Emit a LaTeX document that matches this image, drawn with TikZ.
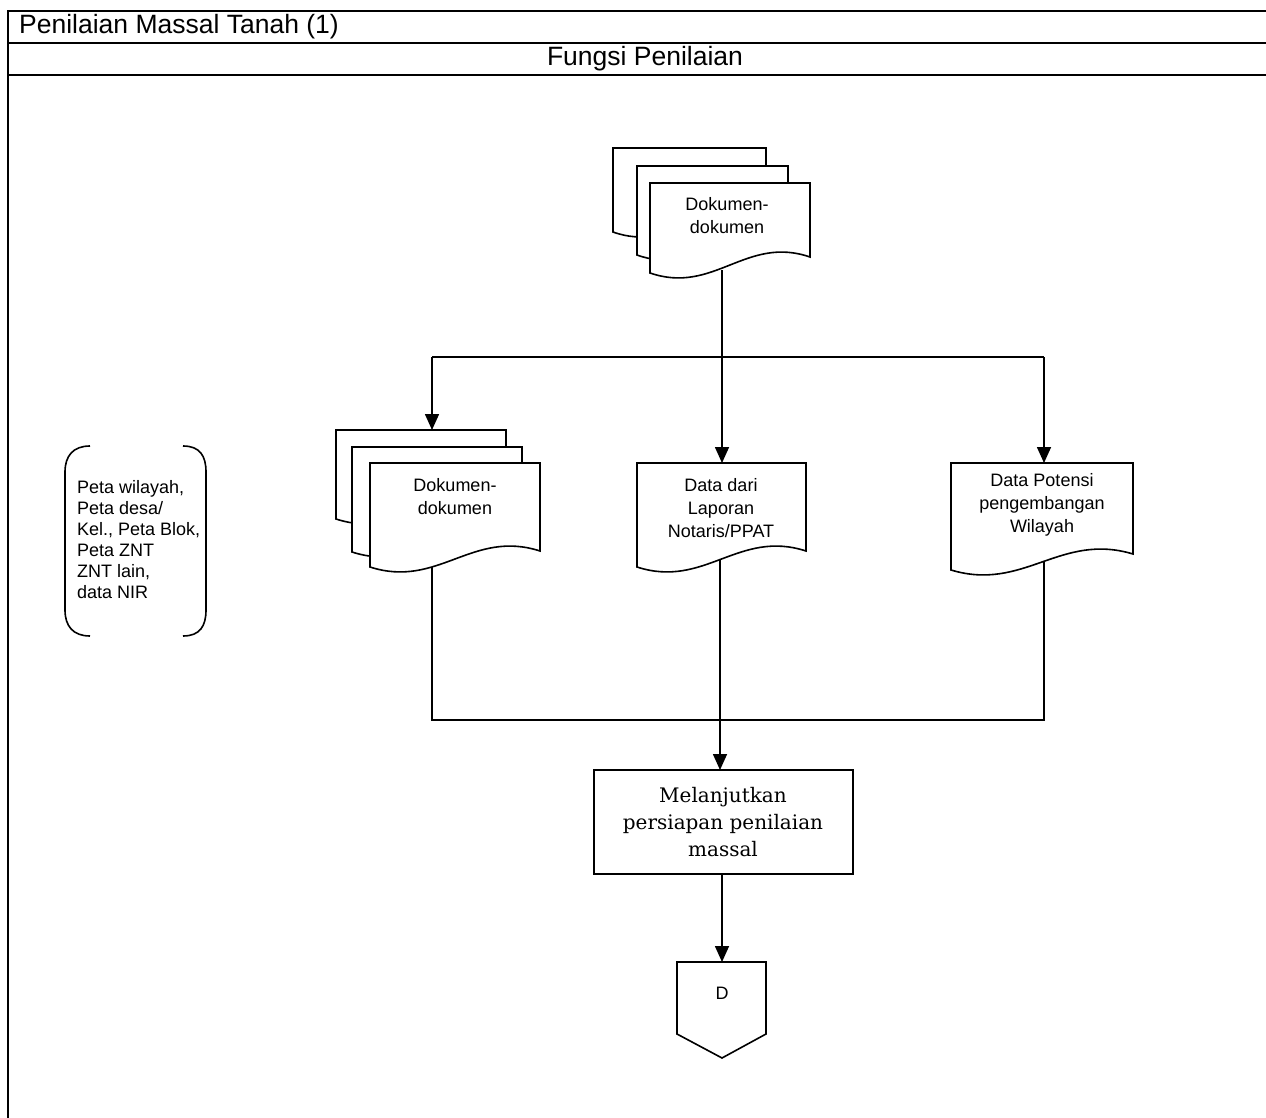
\documentclass[tikz,border=0pt]{standalone}
\usepackage{fontspec}
\setmainfont{Liberation Sans}
\newfontfamily\bookfont{DejaVu Serif}
\usetikzlibrary{arrows.meta}
\tikzset{
  docline/.style={line width=1.6pt, fill=white, line join=miter},
  conn/.style={line width=1.6pt},
  arr/.style={line width=1.6pt, -{Triangle[length=16pt,width=14pt]}},
  frameline/.style={line width=1.4pt},
  smalltext/.style={font=\fontsize{18}{23}\selectfont, align=center, inner sep=0pt},
}
\newcommand\DocShape[4]{% L T R B(left bottom corner)
  \draw[docline] (#1,#2) -- (#3,#2) -- (#3,#4-16)
    .. controls ({#1+0.6*(#3-#1)},#4-38) and ({#1+0.4*(#3-#1)},#4+22) .. (#1,#4) -- cycle;}
\begin{document}
\begin{tikzpicture}[x=1pt,y=-1pt]
\useasboundingbox (0,0) rectangle (1266,1118);
% frame
\draw[frameline] (1266,11) -- (8,11) -- (8,1118);
\draw[frameline] (8,43) -- (1266,43);
\draw[frameline] (8,75) -- (1266,75);
\node[anchor=west, inner sep=0pt, font=\fontsize{26.5}{30}\selectfont] (title) at (19,27) {Penilaian Massal Tanah (1)};
\node[inner sep=0pt, font=\fontsize{26.5}{30}\selectfont] (lane) at (645,59) {Fungsi Penilaian};

% coordinates for connectors
\coordinate (topout) at (722,270);
\coordinate (split) at (722,357);
\coordinate (splitL) at (432,357);
\coordinate (splitR) at (1044,357);
\coordinate (stackin) at (432,430);
\coordinate (datain) at (722,463);
\coordinate (potin) at (1044,463);
\coordinate (stackout) at (432,560);
\coordinate (dataout) at (720,560);
\coordinate (potout) at (1044,560);
\coordinate (mergeL) at (432,720);
\coordinate (mergeR) at (1044,720);
\coordinate (mergeM) at (720,720);
\coordinate (boxin) at (720,770);
\coordinate (boxout) at (722,874);
\coordinate (dtop) at (722,962);

% connectors
\draw[arr] (topout) -- (datain);
\draw[conn] (splitL) -- (splitR);
\draw[arr] (splitL) -- (stackin);
\draw[arr] (splitR) -- (potin);
\draw[conn] (stackout) -- (mergeL) -- (mergeR) -- (potout);
\draw[arr] (dataout) -- (boxin);
\draw[arr] (boxout) -- (dtop);

% top document stack
\DocShape{613}{148}{766}{232}
\DocShape{637}{166}{788}{255}
\DocShape{650}{183}{810}{273}
\node[smalltext] (topdoc) at (727,216) {Dokumen-\\dokumen};

% left document stack
\DocShape{336}{430}{506}{519}
\DocShape{352}{447}{522}{552}
\DocShape{370}{463}{540}{567}
\node[smalltext] (stackdoc) at (455,497) {Dokumen-\\dokumen};

% Data dari Laporan
\DocShape{637}{463}{806}{567}
\node[smalltext] (datadoc) at (721,508) {Data dari\\Laporan\\Notaris/PPAT};

% Data Potensi
\DocShape{951}{463}{1133}{570}
\node[smalltext] (potdoc) at (1042,505) {Data Potensi\\pengembangan\\Wilayah};

% process box
\draw[line width=1.6pt] (594,770) rectangle (853,874);
\node[align=center, inner sep=0pt, font=\bookfont\fontsize{20}{27}\selectfont] (proc) at (723,822) {Melanjutkan\\persiapan penilaian\\massal};

% off-page connector D
\draw[line width=1.6pt, line join=miter] (677,962) -- (766,962) -- (766,1034) -- (722,1058) -- (677,1034) -- cycle;
\node[inner sep=0pt, font=\fontsize{18}{22}\selectfont] (dnode) at (722,993) {D};

% annotation bracket
\draw[line width=1.6pt] (90,446) .. controls (73,446) and (65,456) .. (65,472) -- (65,610) .. controls (65,626) and (73,636) .. (90,636);
\draw[line width=1.6pt] (183,446) .. controls (200,446) and (206,456) .. (206,472) -- (206,610) .. controls (206,626) and (200,636) .. (183,636);
\node[anchor=west, align=left, inner sep=0pt, font=\fontsize{18}{21}\selectfont] (annot) at (77,540) {Peta wilayah,\\Peta desa/\\Kel., Peta Blok,\\Peta ZNT\\ZNT lain,\\data NIR};
\end{tikzpicture}
\end{document}
